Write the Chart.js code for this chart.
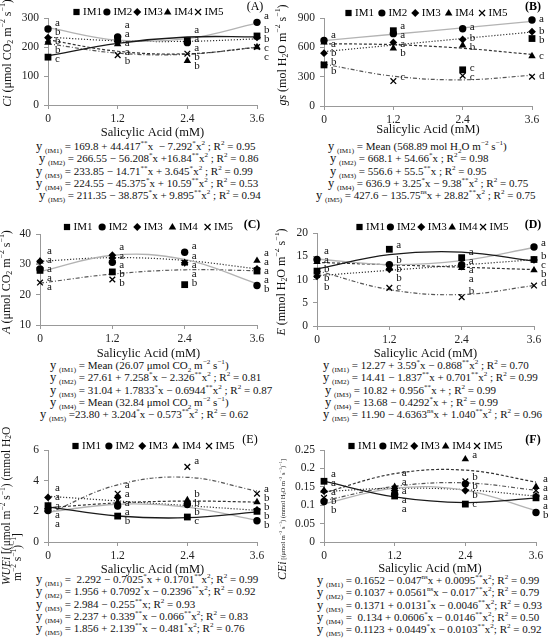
<!DOCTYPE html>
<html><head><meta charset="utf-8">
<script src="https://cdn.jsdelivr.net/npm/chart.js@4.4.0/dist/chart.umd.min.js"></script>
<style>
body{margin:0;background:#fff;width:550px;height:639px;overflow:hidden;position:relative;font-family:"Liberation Serif",serif;color:#111;}
.panel{position:absolute;width:275px;}
.panel canvas{position:absolute;left:0;top:0;z-index:2;}
.eq{position:absolute;white-space:nowrap;font-size:11px;line-height:12.3px;z-index:1;}
.eq .y{font-size:12.5px;}
sub,sup{font-size:65%;line-height:0;}
</style></head><body>

<div class="panel" style="left:0;top:0;height:210px"><canvas id="cA"></canvas>
<div class="eq" style="left:36px;top:140px">
<div><span class="y">y</span> <sub>(IM1)</sub> = 169.8 + 44.417<sup>**</sup>x &nbsp;− 7.292<sup>*</sup>x<sup>2</sup> ; R<sup>2</sup> = 0.95</div>
<div style="margin-left:3px"><span class="y">y</span> <sub>(IM2)</sub> = 266.55 − 56.208<sup>*</sup>x +16.84<sup>**</sup>x<sup>2</sup> ; R<sup>2</sup> = 0.86</div>
<div><span class="y">y</span> <sub>(IM3)</sub> = 233.85 − 14.71<sup>**</sup>x + 3.645<sup>*</sup>x<sup>2</sup> ; R<sup>2</sup> = 0.99</div>
<div><span class="y">y</span> <sub>(IM4)</sub> = 224.55 − 45.375<sup>*</sup>x + 10.59<sup>**</sup>x<sup>2</sup> ; R<sup>2</sup> = 0.53</div>
<div style="margin-left:3px"><span class="y">y</span> <sub>(IM5)</sub> = 211.35 − 38.875<sup>*</sup>x + 9.895<sup>**</sup>x<sup>2</sup> ; R<sup>2</sup> = 0.94</div>
</div></div>

<div class="panel" style="left:275px;top:0;height:210px"><canvas id="cB"></canvas>
<div class="eq" style="left:53px;top:140px">
<div><span class="y">y</span> <sub>(IM1)</sub> = Mean (568.89 mol H<sub>2</sub>O m<sup>−2</sup> s<sup>−1</sup>)</div>
<div style="margin-left:2px"><span class="y">y</span> <sub>(IM2)</sub> = 668.1 + 54.66<sup>*</sup>x ; R<sup>2</sup> = 0.98</div>
<div style="margin-left:2px"><span class="y">y</span> <sub>(IM3)</sub> = 556.6 + 55.5<sup>**</sup>x ; R<sup>2</sup> = 0.95</div>
<div><span class="y">y</span> <sub>(IM4)</sub> = 636.9 + 3.25<sup>*</sup>x − 9.38<sup>**</sup>x<sup>2</sup> ; R<sup>2</sup> = 0.75</div>
<div style="margin-left:-12px"><span class="y">y</span> <sub>(IM5)</sub> = 427.6 − 135.75<sup>ns</sup>x + 28.82<sup>**</sup>x<sup>2</sup> ; R<sup>2</sup> = 0.75</div>
</div></div>

<div class="panel" style="left:0;top:210px;height:215px"><canvas id="cC"></canvas>
<div class="eq" style="left:50px;top:149px">
<div><span class="y">y</span> <sub>(IM1)</sub> = Mean (26.07 μmol CO<sub>2</sub> m<sup>−2</sup> s<sup>−1</sup>)</div>
<div><span class="y">y</span> <sub>(IM2)</sub> = 27.61 + 7.258<sup>*</sup>x − 2.326<sup>**</sup>x<sup>2</sup> ; R<sup>2</sup> = 0.81</div>
<div><span class="y">y</span> <sub>(IM3)</sub> = 31.04 + 1.7833<sup>*</sup>x − 0.6944<sup>**</sup>x<sup>2</sup> ; R<sup>2</sup> = 0.87</div>
<div><span class="y">y</span> <sub>(IM4)</sub> = Mean (32.84 μmol CO<sub>2</sub> m<sup>−2</sup> s<sup>−1</sup>)</div>
<div style="margin-left:-10px"><span class="y">y</span> <sub>(IM5)</sub> =23.80 + 3.204<sup>*</sup>x − 0.573<sup>**</sup>x<sup>2</sup> ; R<sup>2</sup> = 0.62</div>
</div></div>

<div class="panel" style="left:275px;top:210px;height:215px"><canvas id="cD"></canvas>
<div class="eq" style="left:48px;top:149px">
<div><span class="y">y</span> <sub>(IM1)</sub> = 12.27 + 3.59<sup>*</sup>x − 0.868<sup>**</sup>x<sup>2</sup> ; R<sup>2</sup> = 0.70</div>
<div><span class="y">y</span> <sub>(IM2)</sub> = 14.41 − 1.837<sup>**</sup>x + 0.701<sup>**</sup>x<sup>2</sup> ; R<sup>2</sup> = 0.99</div>
<div style="margin-left:2px"><span class="y">y</span> <sub>(IM3)</sub> = 10.82 + 0.956<sup>**</sup>x + ; R<sup>2</sup> = 0.99</div>
<div style="margin-left:2px"><span class="y">y</span> <sub>(IM4)</sub> = 13.68 − 0.4292<sup>*</sup>x + ; R<sup>2</sup> = 0.99</div>
<div><span class="y">y</span> <sub>(IM5)</sub> = 11.90 − 4.6363<sup>ns</sup>x + 1.040<sup>**</sup>x<sup>2</sup> ; R<sup>2</sup> = 0.96</div>
</div></div>

<div class="panel" style="left:0;top:425px;height:214px"><canvas id="cE"></canvas>
<div class="eq" style="left:36px;top:148px">
<div><span class="y">y</span> <sub>(IM1)</sub> = &nbsp;2.292 − 0.7025<sup>*</sup>x + 0.1701<sup>**</sup>x<sup>2</sup>; R<sup>2</sup> = 0.99</div>
<div><span class="y">y</span> <sub>(IM2)</sub> = 1.956 + 0.7092<sup>*</sup>x − 0.2396<sup>**</sup>x<sup>2</sup>; R<sup>2</sup> = 0.92</div>
<div><span class="y">y</span> <sub>(IM3)</sub> = 2.984 − 0.255<sup>**</sup>x; R<sup>2</sup> = 0.93</div>
<div><span class="y">y</span> <sub>(IM4)</sub> = 2.237 + 0.339<sup>**</sup>x − 0.066<sup>**</sup>x<sup>2</sup>; R<sup>2</sup> = 0.83</div>
<div><span class="y">y</span> <sub>(IM5)</sub> = 1.856 + 2.139<sup>**</sup>x − 0.481<sup>*</sup>x<sup>2</sup>; R<sup>2</sup> = 0.76</div>
</div></div>

<div class="panel" style="left:275px;top:425px;height:214px"><canvas id="cF"></canvas>
<div class="eq" style="left:42px;top:149px">
<div><span class="y">y</span> <sub>(IM1)</sub> = 0.1652 − 0.047<sup>ns</sup>x + 0.0095<sup>**</sup>x<sup>2</sup>; R<sup>2</sup> = 0.99</div>
<div><span class="y">y</span> <sub>(IM2)</sub> = 0.1037 + 0.0561<sup>ns</sup>x − 0.017<sup>**</sup>x<sup>2</sup>; R<sup>2</sup> = 0.79</div>
<div><span class="y">y</span> <sub>(IM3)</sub> = 0.1371 + 0.0131<sup>*</sup>x − 0.0046<sup>**</sup>x<sup>2</sup>; R<sup>2</sup> = 0.93</div>
<div><span class="y">y</span> <sub>(IM4)</sub> = &nbsp;0.134 + 0.0606<sup>*</sup>x − 0.0146<sup>**</sup>x<sup>2</sup>; R<sup>2</sup> = 0.50</div>
<div><span class="y">y</span> <sub>(IM5)</sub> = 0.1123 + 0.0449<sup>*</sup>x − 0.0103<sup>**</sup>x<sup>2</sup>; R<sup>2</sup> = 0.92</div>
</div></div>

<script>
// ---------- DATA ----------
const categories = [0, 1.2, 2.4, 3.6];
const xTickLabels = ['0', '1.2', '2.4', '3.6'];
const seriesNames = ['IM1', 'IM2', 'IM3', 'IM4', 'IM5'];

// (A) Ci
const ciTicks = [0, 100, 200, 300];
const ciValues = [
  [165, 228, 222, 238],
  [262, 235, 215, 285],
  [232, 218, 218, 233],
  [215, 210, 152, 200],
  [225, 172, 177, 200]
];
const ciFits = [
  [169.8, 212.6, 234.4, 235.2],
  [266.6, 223.3, 228.6, 282.4],
  [233.9, 221.4, 219.5, 228.1],
  [224.6, 185.3, 176.6, 198.4],
  [211.4, 178.9, 175.0, 199.6]
];
const ciLetters = [
  ['c', 'a', 'a', 'b'],
  ['a', 'a', 'a', 'a'],
  ['b', 'a', 'a', 'b'],
  ['b', 'a', 'b', 'c'],
  ['b', 'b', 'b', 'c']
];

// (B) gs
const gsTicks = [0, 300, 600, 900];
const gsValues = [
  [420, 770, 370, 690],
  [670, 740, 790, 880],
  [540, 650, 680, 760],
  [650, 590, 620, 510],
  [425, 255, 310, 300]
];
const gsFits = [
  null,
  [668.1, 733.7, 799.3, 864.9],
  [556.6, 623.2, 689.8, 756.4],
  [636.9, 627.3, 590.7, 527.1],
  [427.6, 305.4, 267.8, 314.8]
];
const gsLetters = [
  ['b', 'a', 'c', 'b'],
  ['a', 'a', 'a', 'a'],
  ['b', 'a', 'b', 'b'],
  ['a', 'b', 'b', 'c'],
  ['b', 'c', 'c', 'd']
];

// (C) A
const aTicks = [10, 20, 30, 40];
const aValues = [
  [28, 27.5, 23.3, 27.8],
  [28.5, 30.7, 34, 23],
  [31, 33, 30.5, 28.5],
  [31, 32.5, 30.5, 31.2],
  [24, 25, 30.5, 28]
];
const aFits = [
  null,
  [27.6, 33.0, 31.6, 23.6],
  [31.0, 32.2, 31.3, 28.5],
  null,
  [23.8, 26.8, 28.2, 27.9]
];
const aLetters = [
  ['a', 'b', 'b', 'a'],
  ['a', 'a', 'a', 'b'],
  ['a', 'a', 'a', 'a'],
  ['a', 'a', 'a', 'a'],
  ['a', 'b', 'a', 'a']
];

// (D) E
const eTicks = [0, 5, 10, 15, 20];
const eValues = [
  [11.8, 16.5, 14.7, 14.3],
  [14.3, 13.2, 13.2, 17],
  [10.7, 12.2, 12.8, 14.2],
  [13.8, 12.5, 12.5, 12],
  [11, 8.2, 6.2, 8.7]
];
const eFits = [
  [12.27, 15.33, 15.88, 13.94],
  [14.41, 13.20, 14.04, 16.88],
  [10.82, 11.97, 13.11, 14.26],
  [13.68, 13.17, 12.65, 12.13],
  [11.90, 7.83, 6.76, 8.69]
];
const eLetters = [
  ['b', 'a', 'a', 'b'],
  ['a', 'b', 'a', 'a'],
  ['b', 'b', 'a', 'c'],
  ['a', 'b', 'a', 'b'],
  ['b', 'c', 'b', 'd']
];

// (E) WUEi
const wTicks = [0, 2, 4, 6];
const wValues = [
  [2.37, 1.69, 1.63, 2.0],
  [2.05, 2.34, 2.45, 1.39],
  [2.91, 2.91, 2.53, 2.1],
  [2.3, 2.6, 2.73, 2.6],
  [2.2, 3.15, 4.9, 3.15]
];
const wFits = [
  [2.292, 1.695, 1.584, 1.966],
  [1.956, 2.462, 2.278, 1.404],
  [2.984, 2.678, 2.372, 2.066],
  [2.237, 2.549, 2.671, 2.602],
  [1.856, 3.730, 4.219, 3.322]
];
const wLetters = [
  ['a', 'b', 'c', 'b'],
  ['a', 'a', 'b', 'b'],
  ['a', 'a', 'b', 'b'],
  ['a', 'a', 'b', 'b'],
  ['a', 'a', 'a', 'a']
];

// (F) CEi
const cTicks = [0, 0.05, 0.1, 0.15, 0.2, 0.25];
const cTickLabels = ['0', '0.05', '0.1', '0.15', '0.2', '0.25'];
const cValues = [
  [0.165, 0.125, 0.103, 0.12],
  [0.11, 0.13, 0.158, 0.08],
  [0.138, 0.14, 0.14, 0.125],
  [0.14, 0.15, 0.225, 0.15],
  [0.12, 0.145, 0.165, 0.14]
];
const cFits = [
  [0.1652, 0.1225, 0.1071, 0.1191],
  [0.1037, 0.1465, 0.1404, 0.0853],
  [0.1371, 0.1462, 0.1420, 0.1246],
  [0.134, 0.1857, 0.1953, 0.1629],
  [0.1123, 0.1513, 0.1607, 0.1405]
];
const cLetters = [
  ['a', 'a', 'c', 'a'],
  ['b', 'a', 'b', 'b'],
  ['a', 'a', 'b', 'a'],
  ['a', 'a', 'a', 'a'],
  ['b', 'a', 'b', 'a']
];

// ---------- STYLE ----------
const FONT = '"Liberation Serif", "Times New Roman", serif';
const lineStyles = [
  { color: '#1a1a1a', width: 1.3, dash: [] },
  { color: '#b3b3b3', width: 1.3, dash: [] },
  { color: '#333333', width: 1.2, dash: [1.2, 1.8] },
  { color: '#333333', width: 1.2, dash: [3, 2] },
  { color: '#555555', width: 1.2, dash: [4, 2, 1, 2] }
];
const markStyles = [
  { style: 'rect', r: 4.8, bw: 0 },
  { style: 'circle', r: 3.7, bw: 0 },
  { style: 'rectRot', r: 3.9, bw: 0 },
  { style: 'triangle', r: 4.3, bw: 0 },
  { style: 'crossRot', r: 4, bw: 1.3 }
];

const T = (t, k, s) => [t, k || 'n', s];
const unitCO2 = [T(' (μmol CO'), T('2', 'sub'), T(' m'), T('−2', 'sup'), T(' s'), T('−1', 'sup'), T(')')];
const unitH2Omol = [T(' (mol H'), T('2', 'sub'), T('O m'), T('−2', 'sup'), T(' s'), T('−1', 'sup'), T(')')];
const unitH2Ommol = [T(' (mmol H'), T('2', 'sub'), T('O m'), T('−2', 'sup'), T(' s'), T('−1', 'sup'), T(')')];

const panels = [
  { id: 'A', L: 48, R: 257, T: 18, B: 105, H: 140, extra: 0, ticks: ciTicks, values: ciValues, fits: ciFits, letters: ciLetters,
    legend: { cx: 148, cy: 12, w: 151 }, tag: { x: 255, y: 7, bold: false },
    ytitle: [{ segs: [T('Ci', 'i')].concat(unitCO2), x: 8, y: 53, mode: 'center', size: 12 }] },
  { id: 'B', L: 49, R: 257, T: 18, B: 106, H: 137, extra: 0, ticks: gsTicks, values: gsValues, fits: gsFits, letters: gsLetters,
    legend: { cx: 151, cy: 13, w: 163 }, tag: { x: 258, y: 7, bold: true },
    ytitle: [{ segs: [T('gs', 'i')].concat(unitH2Omol), x: 8, y: 55, mode: 'center', size: 12 }] },
  { id: 'C', L: 40, R: 257, T: 24, B: 115, H: 151, extra: 0, ticks: aTicks, values: aValues, fits: aFits, letters: aLetters,
    legend: { cx: 148, cy: 17, w: 170 }, tag: { x: 252, y: 15, bold: true },
    ytitle: [{ segs: [T('A', 'i')].concat(unitCO2), x: 7, y: 72, mode: 'center', size: 12 }] },
  { id: 'D', L: 42, R: 259, T: 23, B: 116, H: 151, extra: 0, ticks: eTicks, values: eValues, fits: eFits, letters: eLetters,
    legend: { cx: 157, cy: 17, w: 153 }, tag: { x: 258, y: 15, bold: true },
    ytitle: [{ segs: [T('E', 'i')].concat(unitH2Ommol), x: 7, y: 72, mode: 'center', size: 12 }] },
  { id: 'E', L: 48, R: 257, T: 25, B: 117, H: 152, extra: 22, ticks: wTicks, values: wValues, fits: wFits, letters: wLetters,
    legend: { cx: 153, cy: 21, w: 163 }, tag: { x: 250, y: 15, bold: false },
    ytitle: [
      { segs: [T('WUEi', 'i'), T(' [(μmol m'), T('−2', 'sup'), T(' s'), T('−1', 'sup'), T(') (mmol H'), T('2', 'sub'), T('O')], x: 7, y: 160, mode: 'start', size: 11.5 },
      { segs: [T('m'), T('−2', 'sup'), T(' s'), T('−1', 'sup'), T(')'), T('−1', 'sup'), T(']')], x: 18, y: 156, mode: 'start', size: 11.5 }
    ] },
  { id: 'F', L: 49, R: 261, T: 25, B: 117, H: 151, extra: 22, ticks: cTicks, tickLabels: cTickLabels, values: cValues, fits: cFits, letters: cLetters,
    legend: { cx: 150, cy: 21, w: 155 }, tag: { x: 258, y: 15, bold: true },
    ytitle: [{ segs: [T('CEi', 'i', 12), T(' [(μmol m', 'n', 6.5), T('−2', 'sup', 6.5), T(' s', 'n', 6.5), T('−1', 'sup', 6.5), T(') (mmol H', 'n', 6.5), T('2', 'sub', 6.5), T('O m', 'n', 6.5), T('−2', 'sup', 6.5), T(' s', 'n', 6.5), T('−1', 'sup', 6.5), T(')', 'n', 6.5), T('−1', 'sup', 6.5), T(']', 'n', 6.5)], x: 8, y: 155, mode: 'start', size: 12 }] }
];

// ---------- HELPERS ----------
function segFont(seg, base) {
  const s = seg[2] || base;
  const sz = (seg[1] === 'sub' || seg[1] === 'sup') ? s * 0.65 : s;
  return { str: (seg[1] === 'i' ? 'italic ' : '') + sz + 'px ' + FONT, sz: sz, s: s };
}
function richWidth(ctx, segs, base) {
  let w = 0;
  segs.forEach(sg => { ctx.font = segFont(sg, base).str; w += ctx.measureText(sg[0]).width; });
  return w;
}
function drawRich(ctx, segs, base, x0) {
  let x = x0;
  segs.forEach(sg => {
    const f = segFont(sg, base);
    ctx.font = f.str;
    let dy = 0;
    if (sg[1] === 'sub') dy = f.s * 0.22;
    if (sg[1] === 'sup') dy = -f.s * 0.38;
    ctx.fillText(sg[0], x, dy);
    x += ctx.measureText(sg[0]).width;
  });
}
function drawMarker(ctx, style, x, y, r) {
  ctx.beginPath();
  if (style === 'rect') { const h = r * 0.78; ctx.rect(x - h, y - h, 2 * h, 2 * h); ctx.fill(); }
  else if (style === 'circle') { ctx.arc(x, y, r * 0.9, 0, Math.PI * 2); ctx.fill(); }
  else if (style === 'rectRot') { ctx.moveTo(x, y - r); ctx.lineTo(x + r, y); ctx.lineTo(x, y + r); ctx.lineTo(x - r, y); ctx.closePath(); ctx.fill(); }
  else if (style === 'triangle') { ctx.moveTo(x, y - r); ctx.lineTo(x + r * 0.95, y + r * 0.65); ctx.lineTo(x - r * 0.95, y + r * 0.65); ctx.closePath(); ctx.fill(); }
  else { const d = r * 0.75; ctx.lineWidth = 1.2; ctx.moveTo(x - d, y - d); ctx.lineTo(x + d, y + d); ctx.moveTo(x + d, y - d); ctx.lineTo(x - d, y + d); ctx.stroke(); }
}

const decorPlugin = {
  id: 'decor',
  afterDatasetsDraw(chart) {
    const ctx = chart.ctx;
    const xs = chart.scales.x, ys = chart.scales.y;
    ctx.save();
    ctx.font = '11px ' + FONT; ctx.fillStyle = '#111'; ctx.textBaseline = 'middle'; ctx.textAlign = 'left';
    categories.forEach((cx, j) => {
      const items = [];
      chart.data.datasets.forEach(ds => {
        if (ds.letters) items.push({ t: ds.letters[j], y: ys.getPixelForValue(ds.data[j].y) });
      });
      items.sort((a, b) => a.y - b.y);
      const orig = items.reduce((s, it) => s + it.y, 0) / items.length;
      for (let k = 1; k < items.length; k++) if (items[k].y < items[k - 1].y + 9) items[k].y = items[k - 1].y + 9;
      const now = items.reduce((s, it) => s + it.y, 0) / items.length;
      const px = xs.getPixelForValue(cx) + 7;
      items.forEach(it => ctx.fillText(it.t, px, it.y - (now - orig)));
    });
    ctx.restore();
  },
  afterDraw(chart) {
    const p = chart.options.plugins.decor.panel;
    const ctx = chart.ctx;
    ctx.save();
    ctx.font = '11px ' + FONT; ctx.textBaseline = 'middle'; ctx.textAlign = 'left';
    ctx.fillStyle = '#000'; ctx.strokeStyle = '#000';
    const tw = seriesNames.map(n => ctx.measureText(n).width);
    const mk = 8, gap = 2.5;
    const used = tw.reduce((a, b) => a + b, 0) + seriesNames.length * (mk + gap);
    const sp = (p.legend.w - used) / (seriesNames.length - 1);
    let x = p.legend.cx - p.legend.w / 2;
    seriesNames.forEach((n, i) => {
      drawMarker(ctx, markStyles[i].style, x + mk / 2, p.legend.cy, 4);
      ctx.fillText(n, x + mk + gap, p.legend.cy + 0.5);
      x += mk + gap + tw[i] + sp;
    });
    ctx.font = (p.tag.bold ? 'bold ' : '') + '12px ' + FONT; ctx.textAlign = 'center';
    ctx.fillText('(' + p.id + ')', p.tag.x, p.tag.y);
    p.ytitle.forEach(t => {
      ctx.save();
      ctx.translate(t.x, t.y);
      ctx.rotate(-Math.PI / 2);
      ctx.textAlign = 'left'; ctx.textBaseline = 'middle'; ctx.fillStyle = '#111';
      const w = richWidth(ctx, t.segs, t.size);
      drawRich(ctx, t.segs, t.size, t.mode === 'center' ? -w / 2 : 0);
      ctx.restore();
    });
    ctx.restore();
  }
};

function makeChart(p) {
  const canvas = document.getElementById('c' + p.id);
  canvas.width = 275; canvas.height = p.H + p.extra;
  canvas.style.width = '275px'; canvas.style.height = (p.H + p.extra) + 'px';
  const datasets = [];
  seriesNames.forEach((name, i) => {
    const fit = p.fits[i];
    if (!fit) return;
    datasets.push({
      type: 'line', label: name + ' trend',
      data: categories.map((x, j) => ({ x: x, y: fit[j] })),
      borderColor: lineStyles[i].color, borderWidth: lineStyles[i].width, borderDash: lineStyles[i].dash,
      pointRadius: 0, tension: 0.38, fill: false, clip: false, order: 2
    });
  });
  seriesNames.forEach((name, i) => {
    datasets.push({
      type: 'scatter', label: name,
      data: categories.map((x, j) => ({ x: x, y: p.values[i][j] })),
      pointStyle: markStyles[i].style, pointRadius: markStyles[i].r, pointHoverRadius: markStyles[i].r,
      backgroundColor: '#000', borderColor: '#000', borderWidth: markStyles[i].bw,
      showLine: false, clip: false, order: 1, letters: p.letters[i]
    });
  });
  const yt = p.ticks;
  new Chart(canvas, {
    type: 'scatter',
    data: { datasets: datasets },
    plugins: [decorPlugin],
    options: {
      responsive: false, animation: false, devicePixelRatio: 1,
      layout: { padding: { top: p.T, right: 275 - p.R, bottom: p.extra, left: 0 } },
      plugins: { legend: { display: false }, tooltip: { enabled: false }, decor: { panel: p } },
      scales: {
        x: {
          type: 'linear', min: categories[0], max: categories[categories.length - 1],
          afterBuildTicks: s => { s.ticks = categories.map(v => ({ value: v })); },
          afterFit: s => { s.height = p.H - p.B; },
          ticks: { callback: (v, i) => xTickLabels[i], font: { family: FONT, size: 11.5 }, color: '#222', padding: 3, maxRotation: 0, autoSkip: false },
          grid: { drawOnChartArea: false, drawTicks: true, tickLength: 4, color: '#999' },
          border: { color: '#999', width: 1 },
          title: { display: true, text: 'Salicylic Acid (mM)', font: { family: FONT, size: 12.5 }, color: '#111', padding: 0 }
        },
        y: {
          type: 'linear', min: yt[0], max: yt[yt.length - 1],
          afterBuildTicks: s => { s.ticks = yt.map(v => ({ value: v })); },
          afterFit: s => { s.width = p.L; },
          ticks: { callback: (v, i) => (p.tickLabels ? p.tickLabels[i] : String(yt[i])), font: { family: FONT, size: 11.5 }, color: '#222', padding: 5, autoSkip: false },
          grid: { drawOnChartArea: false, drawTicks: true, tickLength: 4, color: '#999' },
          border: { color: '#999', width: 1 }
        }
      }
    }
  });
}
panels.forEach(makeChart);
</script>
</body></html>
